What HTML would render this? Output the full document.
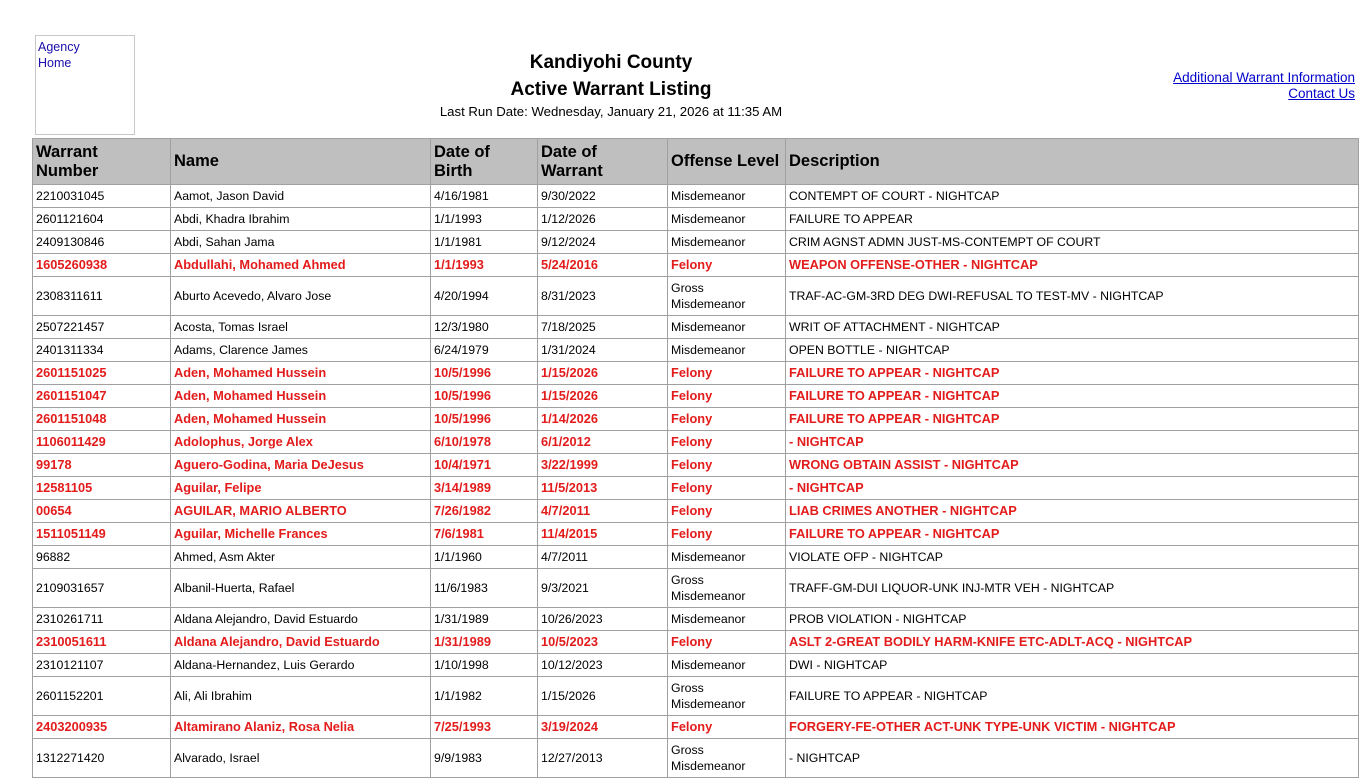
<!DOCTYPE html>
<html><head><meta charset="utf-8"><style>
body{margin:0;background:#fff;font-family:"Liberation Sans",Arial,sans-serif;font-size:12.3px;color:#000;width:1366px;height:768px;overflow:hidden;position:relative}
.logo{position:absolute;left:35px;top:35px;width:100px;height:100px;border:1px solid #c8c8c8;color:#1a0dab;font-size:12.5px;line-height:16px;padding:3px 0 0 2px;box-sizing:border-box}
.t1{position:absolute;left:411px;width:400px;text-align:center;font-weight:bold;font-size:19px}
.run{position:absolute;left:411px;width:400px;top:104px;text-align:center;font-size:13.2px}
.links{position:absolute;right:11px;top:70px;text-align:right;font-size:13.5px;line-height:16px}
.links a{color:#00c;text-decoration:underline}
table{position:absolute;left:32px;top:138px;border-collapse:collapse;table-layout:fixed;width:1326px}
td,th{border:1px solid #a0a0a0;padding:0 3px;text-align:left;vertical-align:middle;height:22px;line-height:14px;white-space:nowrap;overflow:hidden}
th{background:#bfbfbf;font-size:16.5px;height:45px;line-height:19px;white-space:normal}
tr.r td{color:#e31b1b;font-weight:bold;font-size:12.8px;line-height:14px}
tr.d td{height:38px;line-height:16px}
</style></head><body>
<div class="logo">Agency<br>Home</div>
<div class="t1" style="top:52px">Kandiyohi County</div>
<div class="t1" style="top:79px">Active Warrant Listing</div>
<div class="run">Last Run Date: Wednesday, January 21, 2026 at 11:35 AM</div>
<div class="links"><a>Additional Warrant Information</a><br><a>Contact Us</a></div>
<table>
<colgroup><col style="width:138px"><col style="width:260px"><col style="width:107px"><col style="width:130px"><col style="width:118px"><col style="width:573px"></colgroup>
<tr><th>Warrant<br>Number</th><th>Name</th><th>Date of<br>Birth</th><th>Date of<br>Warrant</th><th>Offense Level</th><th>Description</th></tr>
<tr><td>2210031045</td><td>Aamot, Jason David</td><td>4/16/1981</td><td>9/30/2022</td><td>Misdemeanor</td><td>CONTEMPT OF COURT - NIGHTCAP</td></tr>
<tr><td>2601121604</td><td>Abdi, Khadra Ibrahim</td><td>1/1/1993</td><td>1/12/2026</td><td>Misdemeanor</td><td>FAILURE TO APPEAR</td></tr>
<tr><td>2409130846</td><td>Abdi, Sahan Jama</td><td>1/1/1981</td><td>9/12/2024</td><td>Misdemeanor</td><td>CRIM AGNST ADMN JUST-MS-CONTEMPT OF COURT</td></tr>
<tr class="r"><td>1605260938</td><td>Abdullahi, Mohamed Ahmed</td><td>1/1/1993</td><td>5/24/2016</td><td>Felony</td><td>WEAPON OFFENSE-OTHER - NIGHTCAP</td></tr>
<tr class="d"><td>2308311611</td><td>Aburto Acevedo, Alvaro Jose</td><td>4/20/1994</td><td>8/31/2023</td><td>Gross<br>Misdemeanor</td><td>TRAF-AC-GM-3RD DEG DWI-REFUSAL TO TEST-MV - NIGHTCAP</td></tr>
<tr><td>2507221457</td><td>Acosta, Tomas Israel</td><td>12/3/1980</td><td>7/18/2025</td><td>Misdemeanor</td><td>WRIT OF ATTACHMENT - NIGHTCAP</td></tr>
<tr><td>2401311334</td><td>Adams, Clarence James</td><td>6/24/1979</td><td>1/31/2024</td><td>Misdemeanor</td><td>OPEN BOTTLE - NIGHTCAP</td></tr>
<tr class="r"><td>2601151025</td><td>Aden, Mohamed Hussein</td><td>10/5/1996</td><td>1/15/2026</td><td>Felony</td><td>FAILURE TO APPEAR - NIGHTCAP</td></tr>
<tr class="r"><td>2601151047</td><td>Aden, Mohamed Hussein</td><td>10/5/1996</td><td>1/15/2026</td><td>Felony</td><td>FAILURE TO APPEAR - NIGHTCAP</td></tr>
<tr class="r"><td>2601151048</td><td>Aden, Mohamed Hussein</td><td>10/5/1996</td><td>1/14/2026</td><td>Felony</td><td>FAILURE TO APPEAR - NIGHTCAP</td></tr>
<tr class="r"><td>1106011429</td><td>Adolophus, Jorge Alex</td><td>6/10/1978</td><td>6/1/2012</td><td>Felony</td><td>- NIGHTCAP</td></tr>
<tr class="r"><td>99178</td><td>Aguero-Godina, Maria DeJesus</td><td>10/4/1971</td><td>3/22/1999</td><td>Felony</td><td>WRONG OBTAIN ASSIST - NIGHTCAP</td></tr>
<tr class="r"><td>12581105</td><td>Aguilar, Felipe</td><td>3/14/1989</td><td>11/5/2013</td><td>Felony</td><td>- NIGHTCAP</td></tr>
<tr class="r"><td>00654</td><td>AGUILAR, MARIO ALBERTO</td><td>7/26/1982</td><td>4/7/2011</td><td>Felony</td><td>LIAB CRIMES ANOTHER - NIGHTCAP</td></tr>
<tr class="r"><td>1511051149</td><td>Aguilar, Michelle Frances</td><td>7/6/1981</td><td>11/4/2015</td><td>Felony</td><td>FAILURE TO APPEAR - NIGHTCAP</td></tr>
<tr><td>96882</td><td>Ahmed, Asm Akter</td><td>1/1/1960</td><td>4/7/2011</td><td>Misdemeanor</td><td>VIOLATE OFP - NIGHTCAP</td></tr>
<tr class="d"><td>2109031657</td><td>Albanil-Huerta, Rafael</td><td>11/6/1983</td><td>9/3/2021</td><td>Gross<br>Misdemeanor</td><td>TRAFF-GM-DUI LIQUOR-UNK INJ-MTR VEH - NIGHTCAP</td></tr>
<tr><td>2310261711</td><td>Aldana Alejandro, David Estuardo</td><td>1/31/1989</td><td>10/26/2023</td><td>Misdemeanor</td><td>PROB VIOLATION - NIGHTCAP</td></tr>
<tr class="r"><td>2310051611</td><td>Aldana Alejandro, David Estuardo</td><td>1/31/1989</td><td>10/5/2023</td><td>Felony</td><td>ASLT 2-GREAT BODILY HARM-KNIFE ETC-ADLT-ACQ - NIGHTCAP</td></tr>
<tr><td>2310121107</td><td>Aldana-Hernandez, Luis Gerardo</td><td>1/10/1998</td><td>10/12/2023</td><td>Misdemeanor</td><td>DWI - NIGHTCAP</td></tr>
<tr class="d"><td>2601152201</td><td>Ali, Ali Ibrahim</td><td>1/1/1982</td><td>1/15/2026</td><td>Gross<br>Misdemeanor</td><td>FAILURE TO APPEAR - NIGHTCAP</td></tr>
<tr class="r"><td>2403200935</td><td>Altamirano Alaniz, Rosa Nelia</td><td>7/25/1993</td><td>3/19/2024</td><td>Felony</td><td>FORGERY-FE-OTHER ACT-UNK TYPE-UNK VICTIM - NIGHTCAP</td></tr>
<tr class="d"><td>1312271420</td><td>Alvarado, Israel</td><td>9/9/1983</td><td>12/27/2013</td><td>Gross<br>Misdemeanor</td><td>- NIGHTCAP</td></tr>
</table>
</body></html>
